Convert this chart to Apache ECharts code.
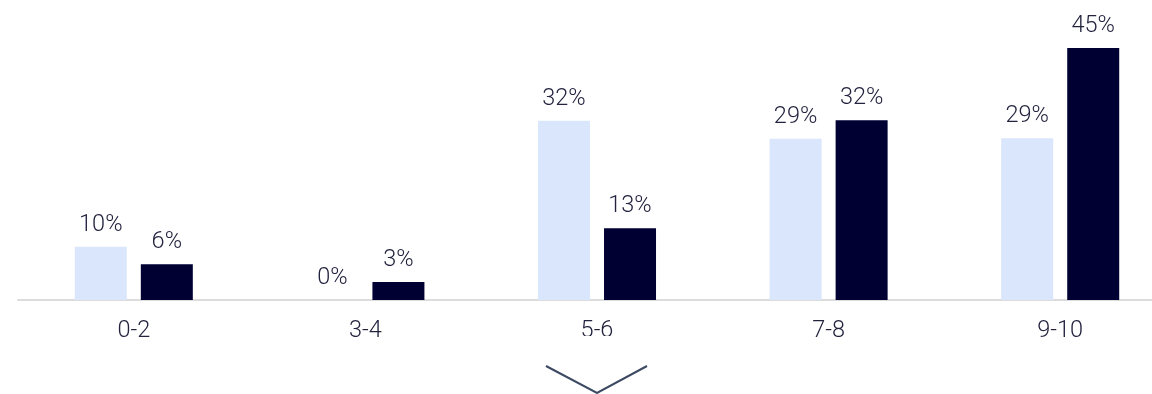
<!DOCTYPE html>
<html>
<head>
<meta charset="utf-8">
<script src="https://cdn.jsdelivr.net/npm/echarts@6/dist/echarts.min.js"></script>
<style>
html,body{margin:0;padding:0;background:#fff;overflow:hidden;width:1152px;height:394px;}
#chart{width:1176px;height:394px;}
</style>
</head>
<body>
<div id="chart"></div>
<script>
const categories = ['0-2', '3-4', '5-6', '7-8', '9-10'];
const seriesA = [9.5, 0, 32, 28.8, 28.9];
const seriesB = [6.4, 3.2, 12.8, 32.1, 45];

const chart = echarts.init(document.getElementById('chart'));
const labelStyle = {
  show: true,
  position: 'top',
  distance: 10,
  fontFamily: 'Roboto',
  fontWeight: 300,
  fontSize: 23.5,
  color: '#23233f',
  formatter: p => Math.round(p.value) + '%'
};
chart.setOption({
  animation: false,
  grid: { left: 18, top: 20, right: 0, height: 280, containLabel: false },
  xAxis: {
    type: 'category',
    data: categories,
    axisLine: { lineStyle: { color: '#dcdcdc', width: 2 } },
    axisTick: { show: false },
    axisLabel: { fontFamily: 'Roboto', fontWeight: 300, fontSize: 23.5, color: '#23233f', margin: 19 }
  },
  yAxis: { type: 'value', min: 0, max: 50, show: false },
  series: [
    { type: 'bar', data: seriesA, barWidth: 52, barGap: '27%', itemStyle: { color: '#d9e6fb' }, label: labelStyle },
    { type: 'bar', data: seriesB, barWidth: 52, barGap: '27%', itemStyle: { color: '#000033' }, label: labelStyle }
  ],
  graphic: [
    { type: 'rect', z: 100, zlevel: 1, shape: { x: 530, y: 336, width: 135, height: 58 }, style: { fill: '#ffffff' } },
    { type: 'polyline', z: 101, zlevel: 1, shape: { points: [[546, 366], [597, 393], [647, 366]] }, style: { stroke: '#3d4a63', lineWidth: 2, fill: null } }
  ]
});
</script>
</body>
</html>
